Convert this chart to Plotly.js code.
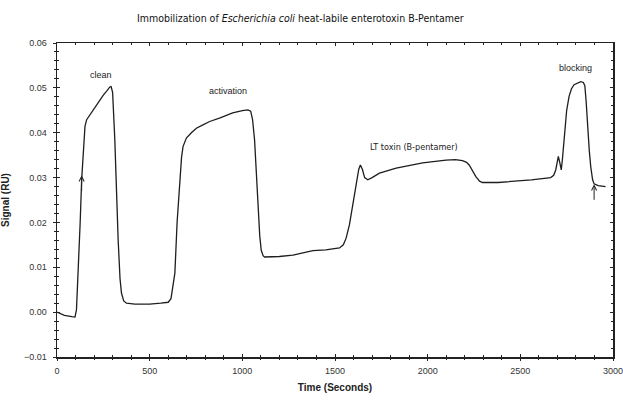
<!DOCTYPE html>
<html><head><meta charset="utf-8">
<script src="https://cdn.plot.ly/plotly-3.0.1.min.js"></script>
<style>html,body{margin:0;padding:0;background:#fff}#chart{width:623px;height:400px}</style>
</head><body><div id="chart"></div>
<script>
const timeSec = [0, 40, 80, 97, 105, 115, 125, 133, 142, 151, 160, 185, 214, 250, 270, 285, 292, 300, 312, 322, 330, 340, 348, 360, 375, 420, 500, 560, 600, 615, 625, 636, 648, 662, 672, 680, 698, 725, 752, 790, 824, 880, 948, 1000, 1030, 1045, 1055, 1066, 1075, 1084, 1094, 1102, 1112, 1120, 1200, 1273, 1330, 1381, 1450, 1524, 1545, 1560, 1578, 1595, 1614, 1628, 1637, 1648, 1660, 1677, 1700, 1740, 1830, 1973, 2099, 2150, 2188, 2210, 2224, 2242, 2260, 2280, 2296, 2380, 2458, 2560, 2664, 2680, 2691, 2700, 2705, 2712, 2721, 2728, 2736, 2750, 2763, 2776, 2790, 2826, 2840, 2848, 2855, 2862, 2872, 2880, 2890, 2898, 2920, 2960];
const signalRU = [0.0000, -0.0007, -0.0010, -0.0011, 0.0005, 0.0087, 0.0200, 0.0295, 0.0370, 0.0414, 0.0429, 0.0445, 0.0463, 0.0484, 0.0494, 0.0502, 0.0503, 0.0490, 0.0384, 0.0250, 0.0161, 0.0075, 0.0042, 0.0025, 0.0020, 0.0018, 0.0018, 0.0020, 0.0022, 0.0030, 0.0055, 0.0087, 0.0200, 0.0295, 0.0345, 0.0369, 0.0388, 0.0400, 0.0410, 0.0418, 0.0425, 0.0433, 0.0444, 0.0449, 0.0451, 0.0448, 0.0430, 0.0384, 0.0310, 0.0235, 0.0170, 0.0138, 0.0126, 0.0123, 0.0124, 0.0127, 0.0132, 0.0137, 0.0139, 0.0143, 0.0150, 0.0165, 0.0195, 0.0240, 0.0287, 0.0318, 0.0328, 0.0318, 0.0300, 0.0295, 0.0300, 0.0310, 0.0321, 0.0333, 0.0339, 0.0340, 0.0338, 0.0334, 0.0328, 0.0315, 0.0302, 0.0292, 0.0289, 0.0289, 0.0291, 0.0295, 0.0300, 0.0305, 0.0317, 0.0340, 0.0347, 0.0335, 0.0317, 0.0345, 0.0384, 0.0450, 0.0481, 0.0498, 0.0507, 0.0514, 0.0512, 0.0505, 0.0470, 0.0421, 0.0360, 0.0324, 0.0295, 0.0286, 0.0282, 0.0280];

const stepLabels = ["clean", "activation", "LT toxin (B-pentamer)", "blocking"];
const stepLabelX = [235, 922, 1928, 2799];
const stepLabelY = [0.0529, 0.0492, 0.0369, 0.0544];
const arrowX = [133, 2898];
const arrowY = [0.0305, 0.0285];

const annotations = stepLabels.map((t, i) => ({
  x: stepLabelX[i], y: stepLabelY[i], text: t, showarrow: false,
  font: {family: i === 2 ? 'DejaVu Sans Condensed, Open Sans, sans-serif' : 'Liberation Sans, Arial, sans-serif', size: 9, color: '#222'}
}));
arrowX.forEach((x, i) => annotations.push({
  x: x, y: arrowY[i], text: '', showarrow: true, arrowhead: 5, arrowsize: 1, arrowwidth: 1,
  arrowcolor: '#222', ax: 0, ay: 17, standoff: 0
}));

const tickFont = {family: 'Liberation Sans, Arial, sans-serif', size: 9, color: '#333'};
const axisCommon = {
  showline: true, linecolor: '#222', linewidth: 1.5, mirror: 'allticks',
  ticks: 'inside', ticklen: 3, tickcolor: '#222', tickwidth: 1,
  showgrid: false, zeroline: false, tickfont: tickFont, ticklabeloverflow: 'allow'
};
const overlayCommon = {
  showline: false, ticks: 'outside', ticklen: 3, tickcolor: '#222', tickwidth: 1,
  showgrid: false, zeroline: false, showticklabels: false
};

const layout = {
  width: 623, height: 400,
  margin: {l: 57, r: 10, t: 43, b: 43},
  paper_bgcolor: '#fff', plot_bgcolor: '#fff',
  showlegend: false,
  title: {text: 'Immobilization of <i>Escherichia coli</i> heat-labile enterotoxin B-Pentamer',
          xref: 'container', x: 0.482, xanchor: 'center', yref: 'container', y: 0.955, yanchor: 'middle',
          font: {family: 'DejaVu Sans Condensed, Open Sans, sans-serif', size: 10.5, color: '#111'}},
  xaxis: Object.assign({}, axisCommon, {
    range: [0, 3000], dtick: 500, tick0: 0, ticklabelstandoff: 5,
    minor: {dtick: 100, ticks: 'inside', ticklen: 2, tickcolor: '#222'},
    title: {text: '<b>Time (Seconds)</b>', standoff: 8,
            font: {family: 'Liberation Sans, Arial, sans-serif', size: 10, color: '#222'}}
  }),
  xaxis2: Object.assign({}, overlayCommon, {
    overlaying: 'x', side: 'bottom', range: [0, 3000], dtick: 500, tick0: 0,
    minor: {dtick: 100, ticks: 'outside', ticklen: 2, tickcolor: '#222'}
  }),
  yaxis: Object.assign({}, axisCommon, {
    range: [-0.01, 0.06], dtick: 0.01, tick0: 0, tickformat: '.2f', ticklabelstandoff: 7,
    minor: {dtick: 0.002, ticks: 'inside', ticklen: 2, tickcolor: '#222'},
    title: {text: '<b>Signal (RU)</b>', standoff: 12,
            font: {family: 'Liberation Sans, Arial, sans-serif', size: 10, color: '#222'}}
  }),
  yaxis2: Object.assign({}, overlayCommon, {
    overlaying: 'y', side: 'left', range: [-0.01, 0.06], dtick: 0.01, tick0: 0,
    minor: {dtick: 0.002, ticks: 'outside', ticklen: 2, tickcolor: '#222'}
  }),
  annotations: annotations
};

Plotly.newPlot('chart', [
  {x: timeSec, y: signalRU, type: 'scatter', mode: 'lines',
   line: {color: '#1e1e1e', width: 1.3}, hoverinfo: 'skip'},
  {x: [], y: [], xaxis: 'x2', yaxis: 'y2', type: 'scatter', mode: 'lines', hoverinfo: 'skip'}
], layout, {displayModeBar: false, staticPlot: true});
</script></body></html>
